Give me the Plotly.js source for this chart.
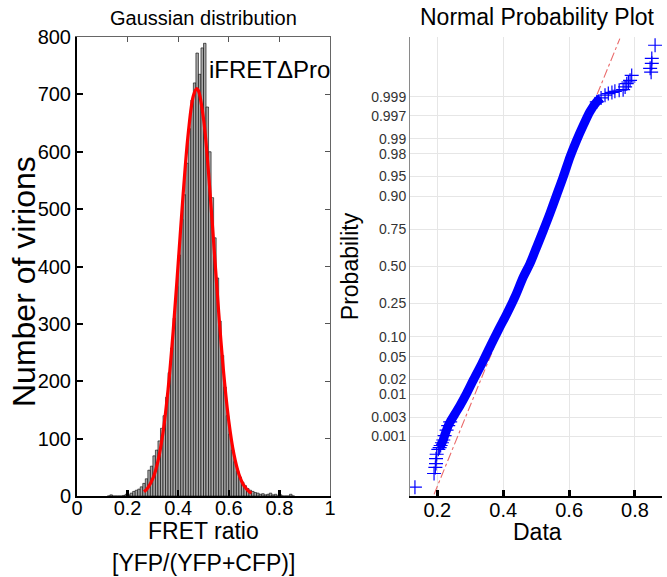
<!DOCTYPE html>
<html>
<head>
<meta charset="utf-8">
<script src="https://cdn.plot.ly/plotly-3.0.1.min.js"></script>
<style>
  html, body { margin: 0; padding: 0; background: #ffffff; }
  #chart { width: 667px; height: 577px; }
</style>
</head>
<body>
<div id="chart"></div>
<script>
// ---------- Left panel: histogram of FRET ratio ----------
const binCenters = [0.125,0.135,0.145,0.155,0.165,0.175,0.185,0.195,0.205,0.215,
                    0.225,0.235,0.245,0.255,0.265,0.275,0.285,0.295,0.305,0.315,
                    0.325,0.335,0.345,0.355,0.365,0.375,0.385,0.395,0.405,0.415,
                    0.425,0.435,0.445,0.455,0.465,0.475,0.485,0.495,0.505,0.515,
                    0.525,0.535,0.545,0.555,0.565,0.575,0.585,0.595,0.605,0.615,
                    0.625,0.635,0.645,0.655,0.665,0.675,0.685,0.695,0.705,0.715,
                    0.725,0.735,0.745,0.755,0.765,0.775,0.785,0.795,0.805,0.815,
                    0.825,0.835,0.845,0.855];
const binCounts  = [0,2,0,0,0,0,1,3,2,5,
                    8,10,12,16,22,30,45,52,70,80,
                    96,118,140,172,215,258,310,365,420,482,
                    525,580,640,690,720,772,735,781,789,678,
                    600,520,450,380,305,245,190,140,108,80,
                    60,44,33,24,18,13,10,8,6,5,
                    3,4,2,3,5,2,3,0,2,0,
                    0,0,3,0];
const binWidth = 0.01;

// Gaussian fit curve
const fitX = [0.265,0.28,0.30,0.32,0.34,0.36,0.38,0.40,0.42,0.44,0.46,0.473,
              0.48,0.50,0.52,0.54,0.56,0.58,0.60,0.62,0.64,0.66,0.68,0.69];
const fitY = [7.5,14.2,30.6,60.8,110.8,185.7,286.3,405.7,528.6,633.3,697.5,710,
              706.4,657.7,563.0,443.1,320.6,213.4,130.5,73.4,37.9,18.0,7.9,5.0];

const histXTicks = [0,0.2,0.4,0.6,0.8,1];
const histXTickText = ['0','0.2','0.4','0.6','0.8','1'];
const histYTicks = [0,100,200,300,400,500,600,700,800];

// ---------- Right panel: normal probability plot ----------
// sample values (Data) and their normal quantiles (position on probability axis)
const probX = [0.132,0.190,0.194,0.196,0.196,0.198,0.203,0.207,0.210,0.214,
               0.218,0.222,0.228,0.233,0.239,0.254,0.269,0.289,0.309,0.335,
               0.360,0.385,0.411,0.436,0.461,0.481,0.502,0.522,0.542,0.562,
               0.582,0.603,0.623,0.643,0.663,0.684,0.697,0.709,0.719,0.730,
               0.739,0.752,0.764,0.770,0.775,0.780,0.785,0.790,
               0.846,0.849,0.851,0.851,0.861];
const probQ = [-4.02,-3.77,-3.66,-3.59,-3.50,-3.42,-3.33,-3.30,-3.26,-3.21,
               -3.16,-3.08,-2.98,-2.90,-2.83,-2.68,-2.53,-2.31,-2.07,-1.77,
               -1.46,-1.16,-0.86,-0.55,-0.19,0.05,0.36,0.66,0.97,1.30,
               1.63,2.00,2.30,2.57,2.82,3.00,3.07,3.12,3.15,3.17,
               3.19,3.21,3.22,3.27,3.33,3.36,3.39,3.48,
               3.61,3.54,3.70,3.79,4.03];
// reference (fit) line end points
const refX = [0.190,0.754];
const refQ = [-4.15,4.15];

const probTickLabels = ['0.001','0.003','0.01','0.02','0.05','0.10','0.25','0.50',
                        '0.75','0.90','0.95','0.98','0.99','0.997','0.999'];
const probXTicks = [0.2,0.4,0.6,0.8];
const probXTickText = ['0.2','0.4','0.6','0.8'];

// inverse standard normal CDF (Acklam) -> probability-axis scale
function norminv(p) {
  const a = [-3.969683028665376e+01, 2.209460984245205e+02, -2.759285104469687e+02,
             1.383577518672690e+02, -3.066479806614716e+01, 2.506628277459239e+00];
  const b = [-5.447609879822406e+01, 1.615858368580409e+02, -1.556989798598866e+02,
             6.680131188771972e+01, -1.328068155288572e+01];
  const c = [-7.784894002430293e-03, -3.223964580411365e-01, -2.400758277161838e+00,
             -2.549732539343734e+00, 4.374664141464968e+00, 2.938163982698783e+00];
  const d = [7.784695709041462e-03, 3.224671290700398e-01, 2.445134137142996e+00,
             3.754408661907416e+00];
  const pl = 0.02425, ph = 1 - pl;
  let q, r;
  if (p < pl) {
    q = Math.sqrt(-2 * Math.log(p));
    return (((((c[0]*q+c[1])*q+c[2])*q+c[3])*q+c[4])*q+c[5]) /
           ((((d[0]*q+d[1])*q+d[2])*q+d[3])*q+1);
  } else if (p <= ph) {
    q = p - 0.5; r = q * q;
    return (((((a[0]*r+a[1])*r+a[2])*r+a[3])*r+a[4])*r+a[5])*q /
           (((((b[0]*r+b[1])*r+b[2])*r+b[3])*r+b[4])*r+1);
  } else {
    q = Math.sqrt(-2 * Math.log(1 - p));
    return -(((((c[0]*q+c[1])*q+c[2])*q+c[3])*q+c[4])*q+c[5]) /
            ((((d[0]*q+d[1])*q+d[2])*q+d[3])*q+1);
  }
}
const probTickVals = probTickLabels.map(s => norminv(parseFloat(s)));

// dense central band vs. sparse tail markers
const bandX = [], bandQ = [], tailX = [], tailQ = [];
probX.forEach((x, i) => {
  const q = probQ[i];
  if (q >= -3.30 && q <= 3.07) { bandX.push(x); bandQ.push(q); }
  if (q <= -2.80 || q >= 2.95) { tailX.push(x); tailQ.push(q); }
});

const FONT = 'Liberation Sans, Arial, Helvetica, sans-serif';
const DOMX1 = [77/667, 330/667];
const DOMY = [1 - 496/577, 1 - 37/577];

const traces = [
  {
    type: 'bar', x: binCenters, y: binCounts, width: binWidth,
    xaxis: 'x', yaxis: 'y',
    marker: { color: '#a8a8a8', line: { color: '#000000', width: 0.6 } },
    hoverinfo: 'x+y', showlegend: false
  },
  {
    type: 'scatter', mode: 'lines', x: fitX, y: fitY,
    xaxis: 'x', yaxis: 'y',
    line: { color: '#ff0000', width: 3.2, shape: 'spline' },
    showlegend: false
  },
  { // carrier for the thin top/right frame axes of the left panel
    type: 'scatter', mode: 'markers', x: [], y: [],
    xaxis: 'x3', yaxis: 'y3', showlegend: false, hoverinfo: 'skip'
  },
  {
    type: 'scatter', mode: 'lines', x: refX, y: refQ,
    xaxis: 'x2', yaxis: 'y2',
    line: { color: '#ea6a6a', width: 1.1, dash: 'dashdot' },
    showlegend: false
  },
  {
    type: 'scatter', mode: 'lines', x: bandX, y: bandQ,
    xaxis: 'x2', yaxis: 'y2',
    line: { color: '#0000ff', width: 9, shape: 'spline', smoothing: 0.8 },
    showlegend: false, hoverinfo: 'skip'
  },
  {
    type: 'scatter', mode: 'markers', x: tailX, y: tailQ,
    xaxis: 'x2', yaxis: 'y2',
    marker: { symbol: 'cross-thin-open', size: 10, color: '#0000ff',
              line: { color: '#0000ff', width: 1.2 } },
    showlegend: false
  }
];

const layout = {
  width: 667, height: 577,
  margin: { l: 0, r: 0, t: 0, b: 0 },
  paper_bgcolor: '#ffffff', plot_bgcolor: '#ffffff',
  font: { family: FONT, color: '#000000' },
  bargap: 0,
  xaxis: {
    domain: DOMX1, range: [0, 1], anchor: 'y',
    tickvals: histXTicks, ticktext: histXTickText,
    ticks: 'inside', ticklen: 6, tickwidth: 2.5, tickcolor: '#000',
    showline: true, linewidth: 2, linecolor: '#000',
    showgrid: false, zeroline: false,
    ticklabelstandoff: -7,
    tickfont: { size: 20, family: FONT, color: '#000' },
    title: { text: '' }
  },
  yaxis: {
    domain: DOMY, range: [0, 800], anchor: 'x',
    tickvals: histYTicks,
    ticks: 'inside', ticklen: 6, tickwidth: 2, tickcolor: '#000',
    showline: true, linewidth: 2, linecolor: '#000',
    showgrid: false, zeroline: false,
    tickfont: { size: 20, family: FONT, color: '#000' },
    title: { text: '' }
  },
  xaxis3: {
    domain: DOMX1, range: [0, 1], anchor: 'y3', overlaying: 'x', side: 'top',
    tickvals: histXTicks, ticks: 'inside', ticklen: 5, tickwidth: 1, tickcolor: '#555',
    showticklabels: false, showline: true, linewidth: 1, linecolor: '#666',
    showgrid: false, zeroline: false
  },
  yaxis3: {
    domain: DOMY, range: [0, 800], anchor: 'x3', overlaying: 'y', side: 'right',
    tickvals: histYTicks, ticks: 'inside', ticklen: 5, tickwidth: 1, tickcolor: '#555',
    showticklabels: false, showline: true, linewidth: 1, linecolor: '#666',
    showgrid: false, zeroline: false
  },
  xaxis2: {
    domain: [410/667, 662/667], range: [0.117, 0.882], anchor: 'y2',
    tickvals: probXTicks, ticktext: probXTickText,
    ticks: 'inside', ticklen: 6, tickwidth: 3, tickcolor: '#000',
    showline: true, linewidth: 2, linecolor: '#000',
    showgrid: true, gridcolor: '#e6e6e6', gridwidth: 1, zeroline: false,
    ticklabelstandoff: -5,
    tickfont: { size: 20, family: FONT, color: '#000' },
    title: { text: '' }
  },
  yaxis2: {
    domain: DOMY, range: [-4.18, 4.18], anchor: 'x2',
    tickvals: probTickVals, ticktext: probTickLabels,
    ticks: '', showline: true, linewidth: 1, linecolor: '#8a8a8a',
    showgrid: true, gridcolor: '#e6e6e6', gridwidth: 1, zeroline: false,
    tickfont: { size: 14, family: FONT, color: '#333333' },
    title: { text: 'Probability', font: { size: 23, family: FONT }, standoff: 6 }
  },
  annotations: [
    { text: 'Gaussian distribution', xref: 'paper', yref: 'paper',
      x: 203/667, y: 1 - 18/577, xanchor: 'center', yanchor: 'middle',
      showarrow: false, font: { size: 20, family: FONT, color: '#000' } },
    { text: 'Normal Probability Plot', xref: 'paper', yref: 'paper',
      x: 537/667, y: 1 - 17/577, xanchor: 'center', yanchor: 'middle',
      showarrow: false, font: { size: 23, family: FONT, color: '#000' } },
    { text: 'iFRETΔPro', xref: 'x', yref: 'y',
      x: 0.515, y: 744, xanchor: 'left', yanchor: 'middle',
      showarrow: false, font: { size: 24, family: FONT, color: '#000' } },
    // axis titles of the left panel
    { text: 'Number of virions', xref: 'paper', yref: 'paper', textangle: -90,
      x: 24/667, y: 1 - 282/577, xanchor: 'center', yanchor: 'middle',
      showarrow: false, font: { size: 32, family: FONT, color: '#000' } },
    { text: 'FRET ratio', xref: 'paper', yref: 'paper',
      x: 203/667, y: 1 - 531/577, xanchor: 'center', yanchor: 'middle',
      showarrow: false, font: { size: 23, family: FONT, color: '#000' } },
    { text: '[YFP/(YFP+CFP)]', xref: 'paper', yref: 'paper',
      x: 203/667, y: 1 - 563/577, xanchor: 'center', yanchor: 'middle',
      showarrow: false, font: { size: 23, family: FONT, color: '#000' } },
    // x-axis title of the right panel
    { text: 'Data', xref: 'paper', yref: 'paper',
      x: 537/667, y: 1 - 532/577, xanchor: 'center', yanchor: 'middle',
      showarrow: false, font: { size: 23, family: FONT, color: '#000' } }
  ]
};

Plotly.newPlot('chart', traces, layout, { displayModeBar: false, staticPlot: true });
</script>
</body>
</html>
